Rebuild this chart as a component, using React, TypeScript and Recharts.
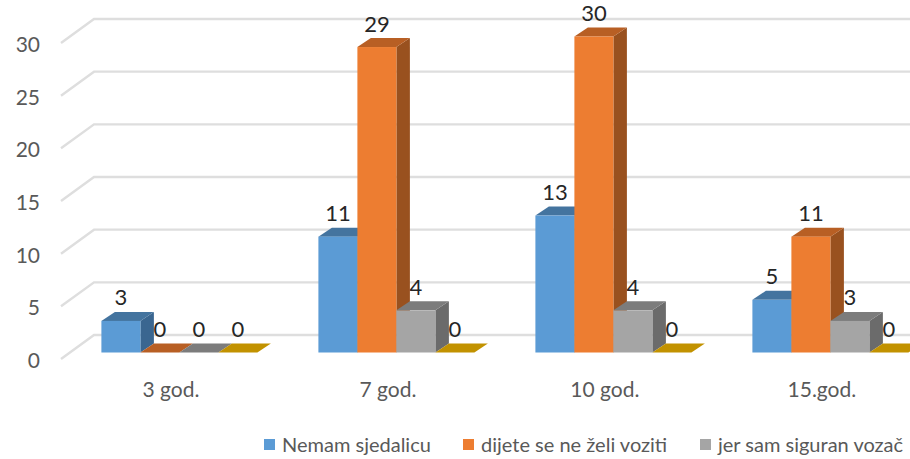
import React from 'react';
import { BarChart, Bar, XAxis, YAxis, CartesianGrid, LabelList } from 'recharts';

const categories = ['3 god.', '7 god.', '10 god.', '15.god.'];
const nemamSjedalicu = [3, 11, 13, 5];
const dijeteSeNeZeli = [0, 29, 30, 11];
const jerSamSiguran = [0, 4, 4, 3];
const cetvrtaSerija = [0, 0, 0, 0];
const yTicks = [0, 5, 10, 15, 20, 25, 30];

const data = categories.map((name, i) => ({
  name,
  a: nemamSjedalicu[i],
  b: dijeteSeNeZeli[i],
  c: jerSamSiguran[i],
  d: cetvrtaSerija[i],
}));

const BLUE = { front: '#5B9BD5', top: '#44749F', side: '#3A6690' };
const ORANGE = { front: '#ED7D31', top: '#B85F24', side: '#99511F' };
const GRAY = { front: '#A5A5A5', top: '#7C7C7C', side: '#6B6B6B' };
const GOLD = { front: '#FFC000', top: '#C29200', side: '#A67C00' };

const legendItems = [
  { label: 'Nemam sjedalicu', color: BLUE.front, left: 264 },
  { label: 'dijete se ne želi voziti', color: ORANGE.front, left: 463 },
  { label: 'jer sam siguran vozač', color: GRAY.front, left: 700 },
];

const FONT = 'Lato, sans-serif';
const DEPTH_X = 13.5;
const DEPTH_Y = 9;

const Box3D = (props: any) => {
  const { x, y, width, height, colors } = props;
  const r = x + width;
  const b = y + height;
  return (
    <g>
      <polygon
        points={`${r},${y} ${r + DEPTH_X},${y - DEPTH_Y} ${r + DEPTH_X},${b - DEPTH_Y} ${r},${b}`}
        fill={colors.side}
      />
      <polygon
        points={`${x},${y} ${x + DEPTH_X},${y - DEPTH_Y} ${r + DEPTH_X},${y - DEPTH_Y} ${r},${y}`}
        fill={colors.top}
      />
      <rect x={x} y={y} width={width} height={height} fill={colors.front} />
    </g>
  );
};

// back wall line with the short diagonal on the left side wall
const WallLine = (props: any) => {
  const { y1, key } = props;
  const y = Number(y1);
  return (
    <polyline
      key={key}
      points={`61,${y + 6.5} 94,${y - 17.5} 960,${y - 17.5}`}
      fill="none"
      stroke="#DEDEDE"
      strokeWidth={2.4}
    />
  );
};

const YTick = ({ y, payload }: any) => (
  <text x={40} y={y + 15.5} textAnchor="end" fontFamily={FONT} fontSize={21} fill="#595959">
    {payload.value}
  </text>
);

const XTick = ({ x, payload }: any) => (
  <text x={x - 9} y={397} textAnchor="middle" fontFamily={FONT} fontSize={21} fill="#595959">
    {payload.value}
  </text>
);

const ValueLabel = ({ x, y, width, value }: any) => (
  <text
    x={x + width / 2}
    y={y - 15.5}
    textAnchor="middle"
    fontFamily={FONT}
    fontSize={22}
    fill="#262626"
  >
    {value}
  </text>
);

const series = [
  { key: 'a', colors: BLUE },
  { key: 'b', colors: ORANGE },
  { key: 'c', colors: GRAY },
  { key: 'd', colors: GOLD },
];

export default function App() {
  return (
    <div
      style={{
        position: 'absolute',
        left: 0,
        top: 0,
        width: 910,
        height: 459,
        overflow: 'hidden',
        background: '#fff',
      }}
    >
      <BarChart
        width={960}
        height={459}
        data={data}
        margin={{ top: 36.5, right: 20.6, bottom: 76.5, left: 0 }}
        barCategoryGap={30}
        barGap={0}
        style={{ overflow: 'hidden' }}
      >
        <CartesianGrid vertical={false} horizontal={WallLine as any} />
        <XAxis dataKey="name" height={30} axisLine={false} tickLine={false} tick={<XTick />} interval={0} />
        <YAxis
          width={71.4}
          domain={[0, 30]}
          ticks={yTicks}
          axisLine={false}
          tickLine={false}
          tick={<YTick />}
          interval={0}
        />
        {series.map((s) => (
          <Bar
            key={s.key}
            dataKey={s.key}
            isAnimationActive={false}
            fill={s.colors.front}
            shape={(p: any) => <Box3D {...p} colors={s.colors} />}
          >
            <LabelList dataKey={s.key} content={<ValueLabel />} />
          </Bar>
        ))}
      </BarChart>
      {legendItems.map((item) => (
        <div key={item.label}>
          <div
            style={{
              position: 'absolute',
              left: item.left,
              top: 439,
              width: 11,
              height: 11,
              background: item.color,
            }}
          />
          <div
            style={{
              position: 'absolute',
              left: item.left + 18,
              top: 433,
              fontFamily: FONT,
              fontSize: 20,
              lineHeight: '22px',
              color: '#595959',
              whiteSpace: 'nowrap',
            }}
          >
            {item.label}
          </div>
        </div>
      ))}
    </div>
  );
}
